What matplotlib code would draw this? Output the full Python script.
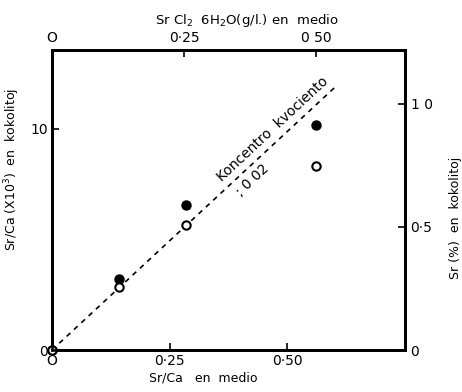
import matplotlib.pyplot as plt

# ---- dati ----
srca_medio = [0.0, 0.143, 0.285, 0.561]          # Sr/Ca en medio (asse basso)
srca_kokolitoj = [0.0, 3.22, 6.56, 10.18]        # Sr/Ca (x10^3), punti pieni
sr_pct = [0.0, 0.255, 0.507, 0.746]              # Sr (%), punti vuoti (asse destro)

line_x = [0.0, 0.605]                            # retta "koncentro kvociento 0.02"
line_y = [0.0, 11.95]

bottom_ticks = [0, 0.25, 0.50]
bottom_labels = ['O', '0·25', '0·50']
top_ticks = [0, 0.25, 0.50]
top_labels = ['O', '0·25', '0 50']
left_ticks = [0, 10]
left_labels = ['0', '10']
right_ticks = [0, 0.5, 1.0]
right_labels = ['0', '0·5', '1 0']

W, H = 462, 392
fig = plt.figure(figsize=(W / 100, H / 100), dpi=100)
ax = fig.add_axes([52 / W, 1 - 350 / H, (405 - 52) / W, (350 - 49.5) / H])

fs = 10   # etichette dei tick
fl = 9    # titoli degli assi

ax.set_xlim(0, 0.75)
ax.set_ylim(0, 13.58)
ax.plot(line_x, line_y, color='black', lw=1.2, ls=(0, (3, 3)))
ax.plot(srca_medio, srca_kokolitoj, 'o', color='black', ms=6.5, clip_on=False, zorder=5)
ax.set_xticks(bottom_ticks)
ax.set_xticklabels(bottom_labels, fontsize=fs)
ax.set_yticks(left_ticks)
ax.set_yticklabels(left_labels, fontsize=fs)
ax.tick_params(direction='in', length=5, width=1.2, pad=3)
ax.set_xlabel('Sr/Ca   en  medio', fontsize=fl)
ax.xaxis.set_label_coords(0.428, -0.07)
ax.set_ylabel('Sr/Ca (X10$^3$)  en  kokolitoj', fontsize=fl)
ax.yaxis.set_label_coords(-0.085, 0.6)

# asse destro: Sr (%)
ax2 = ax.twinx()
ax2.set_ylim(0, 1.22)
ax2.plot(srca_medio, sr_pct, 'o', mfc='white', mec='black', mew=1.5, ms=6,
         clip_on=False, zorder=6)
ax2.set_yticks(right_ticks)
ax2.set_yticklabels(right_labels, fontsize=fs)
ax2.tick_params(direction='in', length=5, width=1.2, pad=4)
ax2.set_ylabel('Sr (%)  en  kokolitoj', fontsize=fl)
ax2.yaxis.set_label_coords(1.125, 0.44)

# asse alto: SrCl2 6H2O
ax3 = ax.twiny()
ax3.set_xlim(0, 0.668)
ax3.set_xticks(top_ticks)
ax3.set_xticklabels(top_labels, fontsize=fs)
ax3.tick_params(direction='in', length=5, width=1.2, pad=3)
ax3.set_xlabel('Sr Cl$_2$  6H$_2$O(g/l.) en  medio', fontsize=fl + 0.5)
ax3.xaxis.set_label_coords(0.552, 1.085)

for a in (ax, ax2, ax3):
    for s in a.spines.values():
        s.set_linewidth(1.8)

ax.text(0.470, 10.0, 'Koncentro  kvociento', fontsize=fs, rotation=43,
        ha='center', va='center', rotation_mode='anchor')
ax.text(0.425, 7.66, '; 0 02', fontsize=fs, rotation=43,
        ha='center', va='center', rotation_mode='anchor')

fig.savefig('out.png', dpi=100)
